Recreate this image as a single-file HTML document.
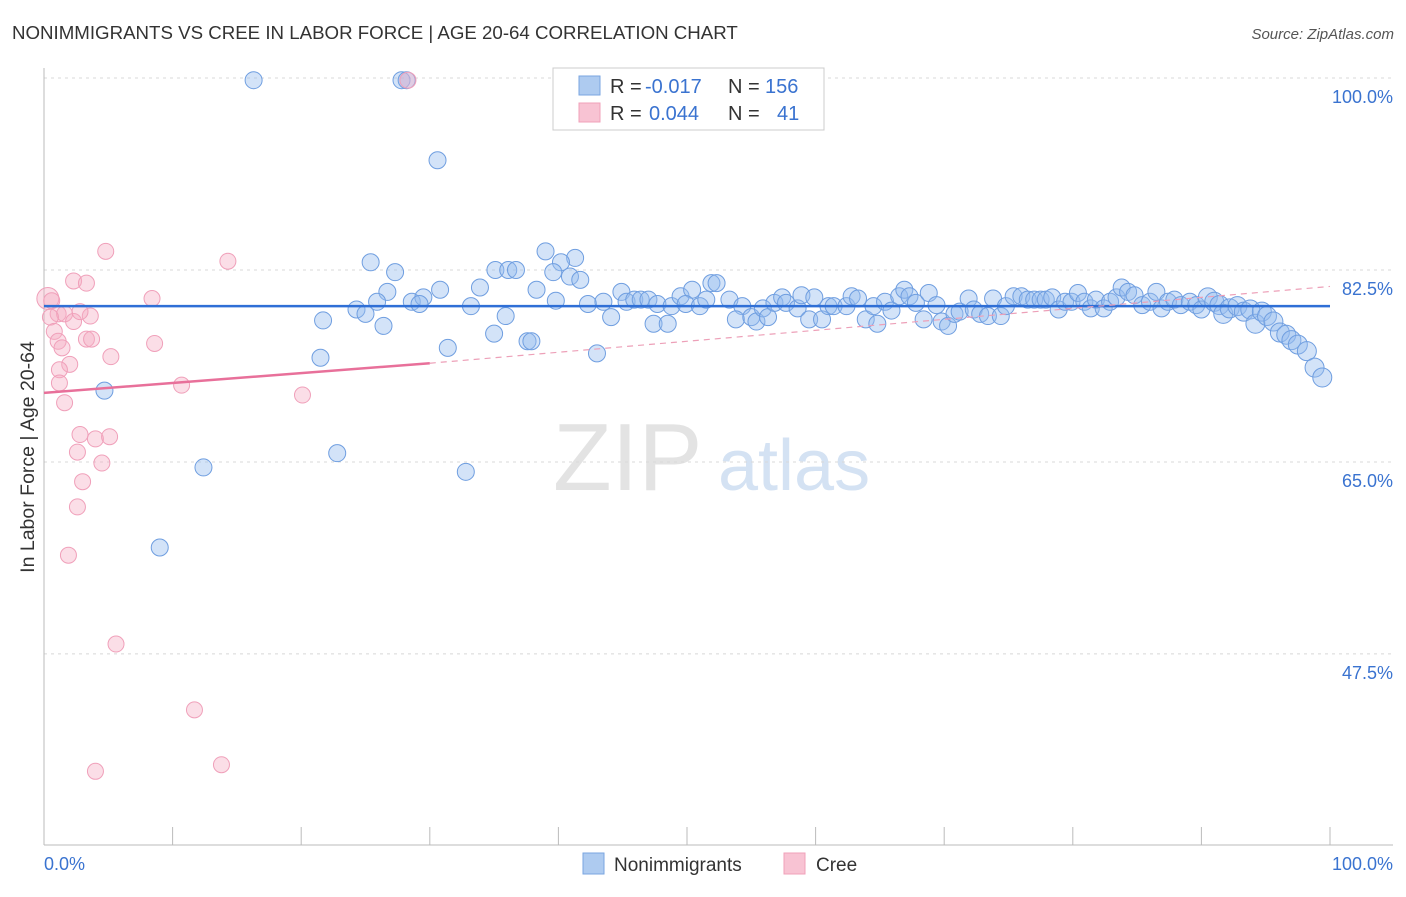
<!DOCTYPE html>
<html><head><meta charset="utf-8"><style>
body{margin:0;background:#fff;font-family:"Liberation Sans",sans-serif;}
svg text{font-family:"Liberation Sans",sans-serif;}
</style></head><body>
<svg id="chart" width="1406" height="892">
<text x="12" y="39" font-size="18.7" fill="#333">NONIMMIGRANTS VS CREE IN LABOR FORCE | AGE 20-64 CORRELATION CHART</text>
<text x="1394" y="39" font-size="15" fill="#555" font-style="italic" text-anchor="end">Source: ZipAtlas.com</text>
<text x="34" y="457" font-size="19.5" fill="#333" text-anchor="middle" transform="rotate(-90 34 457)">In Labor Force | Age 20-64</text>
<text x="553" y="490" font-size="96" fill="#e3e3e3" font-family="Liberation Serif">ZIP</text>
<text x="718" y="490" font-size="72" fill="#d4e2f3">atlas</text>
<g id="grid"></g>
<g id="axes"></g>
<g id="marks"></g>
<g>
<rect x="553" y="68" width="271" height="62" fill="#fff" stroke="#ccc"/>
<rect x="579" y="76" width="21" height="19" fill="#aecbf0" stroke="#7aa6e0"/>
<rect x="579" y="103" width="21" height="19" fill="#f8c3d3" stroke="#f0a0ba"/>
<text x="610" y="93" font-size="20" fill="#333">R =</text>
<text x="645" y="93" font-size="20" fill="#3a73d0">-0.017</text>
<text x="728" y="93" font-size="20" fill="#333">N =</text>
<text x="765" y="93" font-size="20" fill="#3a73d0">156</text>
<text x="610" y="120" font-size="20" fill="#333">R =</text>
<text x="649" y="120" font-size="20" fill="#3a73d0">0.044</text>
<text x="728" y="120" font-size="20" fill="#333">N =</text>
<text x="777" y="120" font-size="20" fill="#3a73d0">41</text>
</g>
<g>
<rect x="583" y="853" width="21" height="21" fill="#aecbf0" stroke="#7aa6e0"/>
<text x="614" y="871" font-size="19" fill="#333">Nonimmigrants</text>
<rect x="784" y="853" width="21" height="21" fill="#f8c3d3" stroke="#f0a0ba"/>
<text x="816" y="871" font-size="19" fill="#333">Cree</text>
</g>
</svg>
<script>
const yTicks=[100,82.5,65,47.5];
const yTickLabels=["100.0%","82.5%","65.0%","47.5%"];
const blueX=[16.3,27.8,28.2,30.6,25.4,27.3,39.0,41.3,40.2,39.6,40.9,41.7,35.1,36.1,36.7,33.9,30.8,26.7,25.9,24.3,25.0,28.6,29.5,29.2,33.2,35.9,35.0,37.6,37.9,26.4,21.7,21.5,31.4,43.0,38.3,39.8,42.3,43.5,44.1,44.9,45.3,45.9,46.4,47.0,47.7,47.4,48.5,48.8,49.5,50.4,49.9,51.0,51.5,51.9,52.3,53.3,54.3,53.8,55.0,55.4,55.9,56.3,56.8,57.4,57.7,58.6,58.9,59.5,59.9,60.5,61.0,61.4,62.4,62.8,63.3,63.9,64.5,64.8,65.4,65.9,66.5,66.9,67.3,67.8,68.4,68.8,69.4,69.8,70.3,70.8,71.2,71.9,72.3,72.8,73.4,73.8,74.4,74.8,75.4,76.0,76.5,77.0,77.5,77.9,78.4,78.9,79.4,79.9,80.4,80.9,81.4,81.8,82.4,82.9,83.4,83.8,84.3,84.8,85.4,86.0,86.5,86.9,87.4,87.9,88.4,89.1,89.6,90.0,90.5,91.0,91.4,91.7,92.2,92.8,93.3,93.8,94.2,94.7,95.1,95.6,96.1,96.6,97.0,97.5,98.2,98.8,99.4,4.7,22.8,32.8,12.4,9.0];
const blueY=[99.8,99.8,99.8,92.5,83.2,82.3,84.2,83.6,83.2,82.3,81.9,81.6,82.5,82.5,82.5,80.9,80.7,80.5,79.6,78.9,78.5,79.6,80.0,79.4,79.2,78.3,76.7,76.0,76.0,77.4,77.9,74.5,75.4,74.9,80.7,79.7,79.4,79.6,78.2,80.5,79.6,79.8,79.8,79.8,79.4,77.6,77.6,79.2,80.1,80.7,79.4,79.2,79.8,81.3,81.3,79.8,79.2,78.0,78.2,77.8,79.0,78.2,79.5,80.0,79.5,79.0,80.2,78.0,80.0,78.0,79.2,79.2,79.2,80.1,79.9,78.0,79.2,77.6,79.6,78.8,80.1,80.7,80.1,79.5,78.0,80.4,79.3,77.8,77.4,78.5,78.7,79.9,78.9,78.5,78.3,79.9,78.3,79.2,80.1,80.1,79.8,79.8,79.8,79.8,80.0,78.9,79.6,79.6,80.4,79.6,79.0,79.8,79.0,79.6,80.0,80.9,80.5,80.2,79.3,79.6,80.5,79.0,79.6,79.8,79.3,79.6,79.3,78.9,80.0,79.6,79.3,78.5,79.0,79.2,78.7,78.9,77.6,78.7,78.3,77.8,76.8,76.6,76.1,75.7,75.1,73.6,72.7,71.5,65.8,64.1,64.5,57.2,54.6];
const pinkX=[28.3,4.8,14.3,2.3,3.3,0.3,0.6,8.4,1.1,1.6,2.3,3.6,2.8,0.5,0.8,1.1,3.3,3.7,8.6,1.4,5.2,2.0,1.2,1.2,10.7,20.1,1.6,2.8,4.0,5.1,2.6,4.5,3.0,2.6,1.9,5.6,11.7,13.8,4.0];
const pinkY=[99.8,84.2,83.3,81.5,81.3,79.9,79.7,79.9,78.5,78.5,77.8,78.3,78.7,78.2,76.9,76.0,76.2,76.2,75.8,75.4,74.6,73.9,73.4,72.2,72.0,71.1,70.4,67.5,67.1,67.3,65.9,64.9,63.2,60.9,56.5,48.4,42.4,37.4,36.8];
const pinkR=[8,8,8,8,8,11,8,8,8,8,8,8,8,8,8,8,8,8,8,8,8,8,8,8,8,8,8,8,8,8,8,8,8,8,8,8,8,8,8];
const NS="http://www.w3.org/2000/svg";
const X0=44,X1=1330,Ytop=78,pxPerUnit=10.97;
const xs=v=>X0+(X1-X0)*v/100;
const ys=v=>Ytop+(100-v)*pxPerUnit;
function mk(tag,attrs,parent){const e=document.createElementNS(NS,tag);for(const k in attrs)e.setAttribute(k,attrs[k]);document.getElementById(parent).appendChild(e);return e;}
yTicks.forEach((t,i)=>{
 const l=mk('line',{x1:44,x2:1393,y1:ys(t),y2:ys(t),stroke:'#d8d8d8','stroke-dasharray':'3,4'},'grid');
 
 
 const tx=mk('text',{x:1393,y:ys(t)+25,'font-size':18,fill:'#3a73d0','text-anchor':'end'},'axes');
 tx.textContent=yTickLabels[i];
 
 
});
mk('line',{x1:44,x2:44,y1:68,y2:845,stroke:'#bbb'},'axes');
mk('line',{x1:44,x2:1393,y1:845,y2:845,stroke:'#bbb'},'axes');
for(let i=0;i<=10;i++){const t=mk('line',{x1:xs(i*10),x2:xs(i*10),y1:827,y2:845,stroke:'#bbb'},'axes');
 
 }
const xl0=mk('text',{x:44,y:870,'font-size':18,fill:'#3a73d0'},'axes');xl0.textContent='0.0%';


const xl1=mk('text',{x:1393,y:870,'font-size':18,fill:'#3a73d0','text-anchor':'end'},'axes');xl1.textContent='100.0%';


blueX.forEach((x,i)=>{const c=mk('circle',{cx:xs(x),cy:ys(blueY[i]),r:(x>90?9.5:8.5),fill:'rgba(150,188,238,0.42)',stroke:'#6f9ee0','stroke-width':1},'marks');
 
 });
pinkX.forEach((x,i)=>{const c=mk('circle',{cx:xs(x),cy:ys(pinkY[i]),r:pinkR[i],fill:'rgba(246,172,196,0.4)',stroke:'#f0a0ba','stroke-width':1},'marks');
 
 });
const bl=mk('line',{x1:xs(0),x2:xs(100),y1:ys(79.2),y2:ys(79.2),stroke:'#2f6fd6','stroke-width':2.5},'marks');


const pl=mk('line',{x1:xs(0),x2:xs(30),y1:ys(71.3),y2:ys(74.0),stroke:'#e8709a','stroke-width':2.5},'marks');


const pd=mk('line',{x1:xs(30),x2:xs(100),y1:ys(74.0),y2:ys(81.0),stroke:'#eda0b8','stroke-width':1.2,'stroke-dasharray':'6,5'},'marks');


</script>
</body></html>
